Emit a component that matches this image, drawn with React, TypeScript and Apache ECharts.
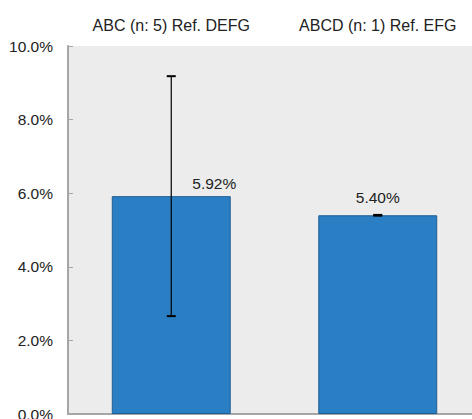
import React, { useEffect, useRef } from "react";
import * as echarts from "echarts";

const categories = ["ABC (n: 5) Ref. DEFG", "ABCD (n: 1) Ref. EFG"];
const values = [5.92, 5.4];
const errLow = [2.66, 5.39];
const errHigh = [9.18, 5.41];
const yTicks = [0, 2, 4, 6, 8, 10];

export default function App() {
  const ref = useRef<HTMLDivElement>(null);
  useEffect(() => {
    if (!ref.current) return;
    const chart = echarts.init(ref.current, null, { renderer: "svg" });
    const font = "'Liberation Sans', Arial, sans-serif";
    const fs = 15.5;
    const labelOffsets = [[43, 0], [0, 0]];
    const labelDist = [5, 10];
    chart.setOption({
      animation: false,
      grid: {
        left: 68,
        top: 46,
        width: 413,
        bottom: 5,
        outerBoundsMode: "none",
        containLabel: false,
        show: true,
        backgroundColor: "#ececec",
        borderWidth: 0,
      },
      xAxis: [
        {
          type: "category",
          data: categories,
          position: "top",
          axisLine: { show: false },
          axisTick: { show: false },
          axisLabel: { color: "#222", fontSize: 16, fontFamily: font, margin: 13 },
        },
        {
          type: "category",
          data: categories,
          position: "bottom",
          axisLine: { show: true, lineStyle: { color: "#a6a6a6", width: 2 } },
          axisTick: { show: false },
          axisLabel: { show: false },
        },
      ],
      yAxis: {
        type: "value",
        min: yTicks[0],
        max: yTicks[yTicks.length - 1],
        interval: 2,
        axisLine: { show: true, lineStyle: { color: "#a6a6a6", width: 2 } },
        axisTick: { show: true, inside: true, length: 5, lineStyle: { color: "#a6a6a6", width: 1 } },
        splitLine: { show: false },
        axisLabel: {
          color: "#222",
          fontSize: fs,
          fontFamily: font,
          margin: 15,
          formatter: (v: number) => v.toFixed(1) + "%",
        },
      },
      series: [
        {
          type: "bar",
          xAxisIndex: 0,
          barWidth: "57.6%",
          data: values.map((v, i) => ({
            value: v,
            label: {
              show: true,
              position: "top",
              distance: labelDist[i],
              offset: labelOffsets[i],
              color: "#222",
              fontSize: fs,
              fontFamily: font,
              formatter: (p: any) => p.value.toFixed(2) + "%",
            },
          })),
          itemStyle: { color: "#2a7fc4", borderColor: "#1d5e94", borderWidth: 1 },
        },
        {
          type: "custom",
          xAxisIndex: 0,
          z: 10,
          data: values.map((_, i) => [i, errLow[i], errHigh[i]]),
          renderItem: (params: any, api: any) => {
            const x = api.value(0);
            const lo = api.coord([x, api.value(1)]);
            const hi = api.coord([x, api.value(2)]);
            const half = 4.5;
            const style = { stroke: "#000", lineWidth: 1.2 };
            return {
              type: "group",
              children: [
                { type: "line", shape: { x1: hi[0], y1: hi[1], x2: lo[0], y2: lo[1] }, style },
                { type: "line", shape: { x1: hi[0] - half, y1: hi[1], x2: hi[0] + half, y2: hi[1] }, style: { stroke: "#000", lineWidth: 2 } },
                { type: "line", shape: { x1: lo[0] - half, y1: lo[1], x2: lo[0] + half, y2: lo[1] }, style: { stroke: "#000", lineWidth: 2 } },
              ],
            };
          },
        },
      ],
    });
    return () => chart.dispose();
  }, []);
  return (
    <div
      ref={ref}
      style={{ position: "fixed", left: 0, top: 0, width: 472, height: 419, background: "#fff" }}
    />
  );
}
